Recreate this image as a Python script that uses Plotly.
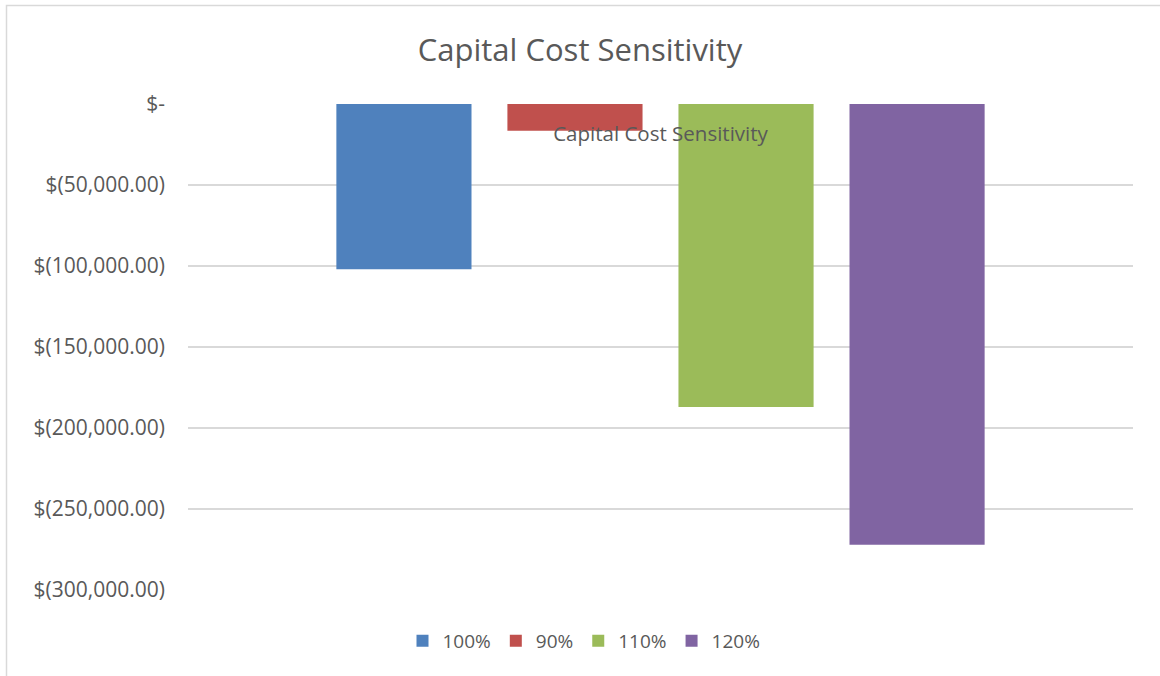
import plotly.graph_objects as go

# Scenario data
category = ["Capital Cost Sensitivity"]
series_names = ["100%", "90%", "110%", "120%"]
series_values = [-102000, -16500, -187000, -272000]
series_colors = ["#4F81BD", "#C0504D", "#9BBB59", "#8064A2"]

tick_vals = [0, -50000, -100000, -150000, -200000, -250000, -300000]
tick_text = ["$-", "$(50,000.00)", "$(100,000.00)", "$(150,000.00)",
             "$(200,000.00)", "$(250,000.00)", "$(300,000.00)"]

FONT = "Open Sans"
TEXT = "#595959"

fig = go.Figure()
for name, val, col in zip(series_names, series_values, series_colors):
    fig.add_trace(go.Bar(x=category, y=[val], name=name,
                         marker=dict(color=col, line=dict(width=0))))

W, H = 1160, 676
L, R, T, B = 188, 27, 104, 86
pw, ph = W - L - R, H - T - B

fig.update_layout(
    width=W, height=H,
    margin=dict(l=L, r=R, t=T, b=B),
    paper_bgcolor="white", plot_bgcolor="white",
    barmode="group", bargap=0.276, bargroupgap=0.21,
    font=dict(family=FONT, color=TEXT, size=20),
    title=dict(text="Capital Cost Sensitivity", x=580 / W, xref="container",
               xanchor="center", y=1 - 50 / H, yref="container", yanchor="middle",
               font=dict(family=FONT, size=31, color=TEXT)),
    showlegend=True,
    legend=dict(orientation="h", x=(584 - L) / pw, xanchor="center",
                y=(H - B - 641) / ph, yanchor="middle",
                font=dict(family=FONT, size=19, color=TEXT),
                itemwidth=30, tracegroupgap=0, traceorder="normal"),
    yaxis=dict(range=[-300000, 0], tickvals=tick_vals, ticktext=tick_text,
               showgrid=True, gridcolor="#D9D9D9", gridwidth=1.5,
               zeroline=False, showline=False, ticks="",
               ticklabelstandoff=22,
               tickfont=dict(family=FONT, size=21, color=TEXT)),
    xaxis=dict(anchor="free", position=1, side="bottom",
               showline=False, ticks="", showgrid=False, zeroline=False,
               ticklabelstandoff=15,
               tickfont=dict(family=FONT, size=20.5, color=TEXT)),
)

# Outer chart border (left and top edges visible)
fig.add_shape(type="rect", xref="paper", yref="paper",
              x0=(6.5 - L) / pw, x1=1.2, y0=-0.4, y1=(H - B - 5.5) / ph,
              line=dict(color="#D9D9D9", width=1.5), fillcolor="rgba(0,0,0,0)",
              layer="below")

fig.write_html("out.html")
